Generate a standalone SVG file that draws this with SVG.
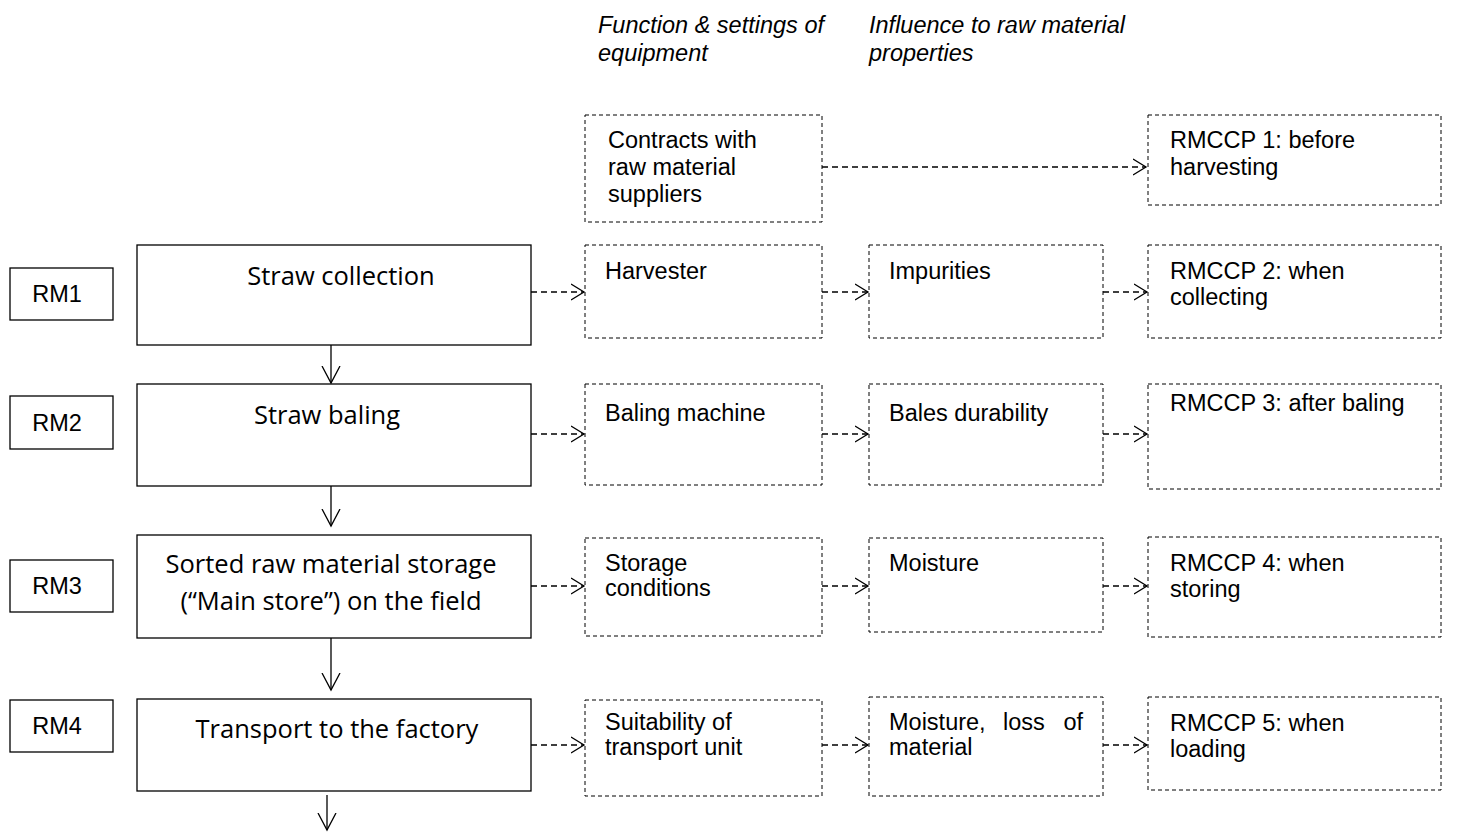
<svg xmlns="http://www.w3.org/2000/svg" width="1458" height="833" viewBox="0 0 1458 833">
<style>
.solid{fill:#fff;stroke:#000;stroke-width:1.3}
.dash{fill:#fff;stroke:#000;stroke-width:1;stroke-dasharray:4 3}
.t{font-family:"Liberation Sans",Arial,sans-serif;font-size:23.5px;fill:#000}
.m{font-family:"Open Sans","Liberation Sans",sans-serif;font-size:25.5px;fill:#000;text-anchor:middle}
.h{font-family:"Liberation Sans",Arial,sans-serif;font-size:23.5px;font-style:italic;fill:#000}
.c{fill:none;stroke:#000;stroke-width:1.3}
.cd{fill:none;stroke:#000;stroke-width:1.3;stroke-dasharray:6 4}
</style>
<defs>
<marker id="v" markerWidth="20" markerHeight="22" refX="17" refY="10" orient="auto" markerUnits="userSpaceOnUse">
<path d="M0,1 L17,10 L0,19" fill="none" stroke="#000" stroke-width="1.3"/>
</marker>
<marker id="d" markerWidth="16" markerHeight="20" refX="13" refY="9" orient="auto" markerUnits="userSpaceOnUse">
<path d="M0,1 L13,9 L0,17" fill="none" stroke="#000" stroke-width="1.3"/>
</marker>
</defs>
<rect width="1458" height="833" fill="#fff"/>
<g id="headers">
<text class="h" x="598" y="33">Function &amp; settings of</text>
<text class="h" x="598" y="61">equipment</text>
<text class="h" x="869" y="33">Influence to raw material</text>
<text class="h" x="869" y="61">properties</text>
</g>
<g id="connectors">
<line class="c" x1="331" y1="345" x2="331" y2="383" marker-end="url(#v)"/>
<line class="c" x1="331" y1="486" x2="331" y2="526" marker-end="url(#v)"/>
<line class="c" x1="331" y1="638" x2="331" y2="690" marker-end="url(#v)"/>
<line class="c" x1="327" y1="795" x2="327" y2="830" marker-end="url(#v)"/>
<line class="cd" x1="822" y1="167" x2="1146" y2="167" marker-end="url(#d)"/>
<line class="cd" x1="531" y1="292" x2="584" y2="292" marker-end="url(#d)"/>
<line class="cd" x1="822" y1="292" x2="868" y2="292" marker-end="url(#d)"/>
<line class="cd" x1="1103" y1="292" x2="1147" y2="292" marker-end="url(#d)"/>
<line class="cd" x1="531" y1="434" x2="584" y2="434" marker-end="url(#d)"/>
<line class="cd" x1="822" y1="434" x2="868" y2="434" marker-end="url(#d)"/>
<line class="cd" x1="1103" y1="434" x2="1147" y2="434" marker-end="url(#d)"/>
<line class="cd" x1="531" y1="586" x2="584" y2="586" marker-end="url(#d)"/>
<line class="cd" x1="822" y1="586" x2="868" y2="586" marker-end="url(#d)"/>
<line class="cd" x1="1103" y1="586" x2="1147" y2="586" marker-end="url(#d)"/>
<line class="cd" x1="531" y1="745" x2="584" y2="745" marker-end="url(#d)"/>
<line class="cd" x1="822" y1="745" x2="868" y2="745" marker-end="url(#d)"/>
<line class="cd" x1="1103" y1="745" x2="1147" y2="745" marker-end="url(#d)"/>
</g>
<g id="rm1"><rect class="solid" x="10" y="268" width="103" height="52"/><text class="t" x="57" y="302" text-anchor="middle">RM1</text></g>
<g id="rm2"><rect class="solid" x="10" y="396" width="103" height="53"/><text class="t" x="57" y="431" text-anchor="middle">RM2</text></g>
<g id="rm3"><rect class="solid" x="10" y="560" width="103" height="52"/><text class="t" x="57" y="594" text-anchor="middle">RM3</text></g>
<g id="rm4"><rect class="solid" x="10" y="700" width="103" height="52"/><text class="t" x="57" y="734" text-anchor="middle">RM4</text></g>
<g id="step1"><rect class="solid" x="137" y="245" width="394" height="100"/><text class="m" x="341" y="285">Straw collection</text></g>
<g id="step2"><rect class="solid" x="137" y="384" width="394" height="102"/><text class="m" x="327" y="424">Straw baling</text></g>
<g id="step3"><rect class="solid" x="137" y="535" width="394" height="103"/><text class="m" x="331" y="573">Sorted raw material storage</text><text class="m" x="331" y="610">(“Main store”) on the field</text></g>
<g id="step4"><rect class="solid" x="137" y="699" width="394" height="92"/><text class="m" x="337" y="738">Transport to the factory</text></g>
<g id="contracts"><rect class="dash" x="585" y="115" width="237" height="107"/><text class="t" x="608" y="148">Contracts with</text><text class="t" x="608" y="175">raw material</text><text class="t" x="608" y="202">suppliers</text></g>
<g id="harvester"><rect class="dash" x="585" y="245" width="237" height="93"/><text class="t" x="605" y="279">Harvester</text></g>
<g id="baling-machine"><rect class="dash" x="585" y="384" width="237" height="101"/><text class="t" x="605" y="421">Baling machine</text></g>
<g id="storage-conditions"><rect class="dash" x="585" y="538" width="237" height="98"/><text class="t" x="605" y="571">Storage</text><text class="t" x="605" y="596">conditions</text></g>
<g id="suitability"><rect class="dash" x="585" y="700" width="237" height="96"/><text class="t" x="605" y="730">Suitability of</text><text class="t" x="605" y="755">transport unit</text></g>
<g id="impurities"><rect class="dash" x="869" y="245" width="234" height="93"/><text class="t" x="889" y="279">Impurities</text></g>
<g id="bales-durability"><rect class="dash" x="869" y="384" width="234" height="101"/><text class="t" x="889" y="421">Bales durability</text></g>
<g id="moisture"><rect class="dash" x="869" y="538" width="234" height="94"/><text class="t" x="889" y="571">Moisture</text></g>
<g id="moisture-loss"><rect class="dash" x="869" y="697" width="234" height="99"/><text class="t" y="730"><tspan x="889">Moisture,</tspan><tspan x="1003">loss</tspan><tspan x="1083" text-anchor="end">of</tspan></text><text class="t" x="889" y="755">material</text></g>
<g id="rmccp1"><rect class="dash" x="1148" y="115" width="293" height="90"/><text class="t" x="1170" y="148">RMCCP 1: before</text><text class="t" x="1170" y="175">harvesting</text></g>
<g id="rmccp2"><rect class="dash" x="1148" y="245" width="293" height="93"/><text class="t" x="1170" y="279">RMCCP 2: when</text><text class="t" x="1170" y="305">collecting</text></g>
<g id="rmccp3"><rect class="dash" x="1148" y="384" width="293" height="105"/><text class="t" x="1170" y="411">RMCCP 3: after baling</text></g>
<g id="rmccp4"><rect class="dash" x="1148" y="537" width="293" height="100"/><text class="t" x="1170" y="571">RMCCP 4: when</text><text class="t" x="1170" y="597">storing</text></g>
<g id="rmccp5"><rect class="dash" x="1148" y="697" width="293" height="93"/><text class="t" x="1170" y="731">RMCCP 5: when</text><text class="t" x="1170" y="757">loading</text></g>
</svg>
